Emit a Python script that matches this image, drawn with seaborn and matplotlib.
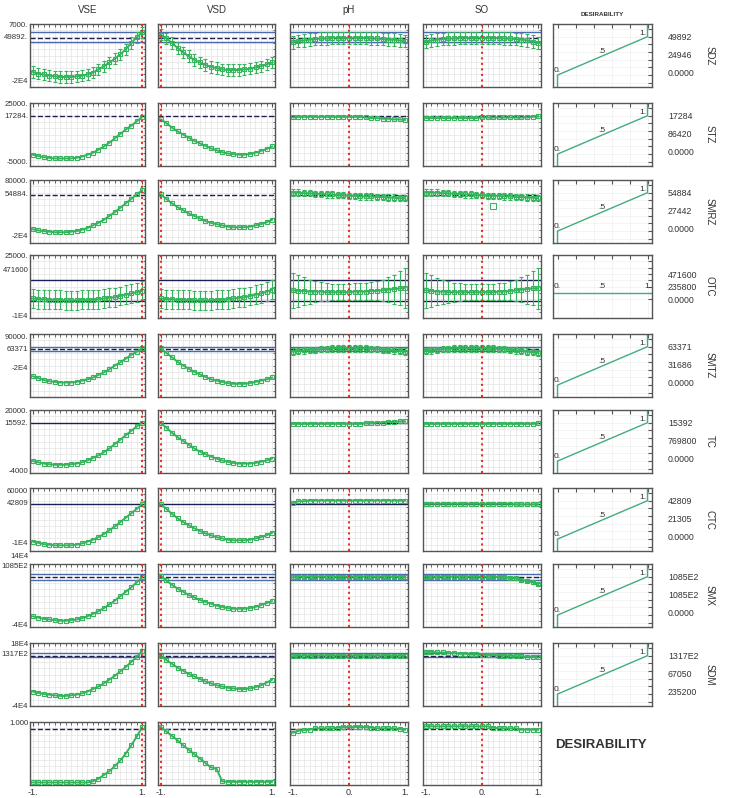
import numpy as np
import matplotlib
matplotlib.use('Agg')
import matplotlib.pyplot as plt
import seaborn as sns

#DATA
# coded factor levels along each profile
x_levels = [-1.0, -0.9, -0.8, -0.7, -0.6, -0.5, -0.4, -0.3, -0.2, -0.1, 0.0,
            0.1, 0.2, 0.3, 0.4, 0.5, 0.6, 0.7, 0.8, 0.9, 1.0]

factors = ['VSE', 'VSD', 'pH', 'SO']
current_x = [1.0, -1.0, 0.0, 0.0]
responses = ['SDZ', 'STZ', 'SMRZ', 'OTC', 'SMTZ', 'TC', 'CTC', 'SMX', 'SDM', 'DESIRABILITY']

# predicted values (scaled to each panel's range)
sdz_vse = [0.24, 0.21, 0.20, 0.18, 0.17, 0.16, 0.16, 0.16, 0.17, 0.18, 0.20, 0.23, 0.28, 0.33, 0.39, 0.45, 0.52, 0.60, 0.70, 0.79, 0.87]
sdz_vsd = [0.83, 0.77, 0.70, 0.62, 0.55, 0.49, 0.43, 0.39, 0.35, 0.32, 0.30, 0.28, 0.27, 0.27, 0.27, 0.28, 0.29, 0.31, 0.33, 0.36, 0.39]
sdz_ph = [0.71, 0.73, 0.74, 0.75, 0.76, 0.77, 0.77, 0.78, 0.78, 0.78, 0.78, 0.78, 0.78, 0.78, 0.77, 0.77, 0.76, 0.75, 0.75, 0.74, 0.73]
sdz_so = [0.72, 0.74, 0.75, 0.76, 0.77, 0.77, 0.78, 0.78, 0.78, 0.78, 0.78, 0.78, 0.78, 0.78, 0.77, 0.77, 0.76, 0.75, 0.74, 0.72, 0.70]

stz_vse = [0.18, 0.16, 0.14, 0.13, 0.12, 0.12, 0.12, 0.12, 0.13, 0.15, 0.18, 0.21, 0.26, 0.31, 0.37, 0.44, 0.51, 0.58, 0.64, 0.71, 0.78]
stz_vsd = [0.74, 0.68, 0.61, 0.55, 0.50, 0.45, 0.40, 0.36, 0.32, 0.28, 0.25, 0.22, 0.20, 0.19, 0.18, 0.18, 0.19, 0.21, 0.24, 0.27, 0.31]
stz_ph = [0.77, 0.78, 0.78, 0.78, 0.78, 0.78, 0.78, 0.78, 0.78, 0.78, 0.78, 0.78, 0.78, 0.77, 0.76, 0.76, 0.75, 0.75, 0.74, 0.74, 0.73]
stz_so = [0.76, 0.76, 0.76, 0.76, 0.76, 0.76, 0.76, 0.76, 0.76, 0.76, 0.77, 0.77, 0.77, 0.77, 0.77, 0.77, 0.77, 0.77, 0.77, 0.78, 0.79]

smrz_vse = [0.22, 0.20, 0.19, 0.18, 0.17, 0.17, 0.17, 0.18, 0.19, 0.21, 0.24, 0.28, 0.32, 0.37, 0.43, 0.49, 0.56, 0.63, 0.70, 0.77, 0.84]
smrz_vsd = [0.77, 0.70, 0.63, 0.57, 0.52, 0.47, 0.43, 0.39, 0.35, 0.32, 0.30, 0.28, 0.26, 0.25, 0.25, 0.25, 0.26, 0.28, 0.30, 0.33, 0.37]
smrz_ph = [0.80, 0.80, 0.79, 0.79, 0.78, 0.78, 0.77, 0.77, 0.76, 0.76, 0.75, 0.75, 0.74, 0.74, 0.74, 0.73, 0.73, 0.72, 0.72, 0.71, 0.71]
smrz_so = [0.80, 0.80, 0.80, 0.79, 0.79, 0.78, 0.78, 0.77, 0.77, 0.76, 0.76, 0.75, 0.75, 0.75, 0.74, 0.74, 0.73, 0.73, 0.72, 0.72, 0.71]
smrz_so_out_x = [0.2]
smrz_so_out_y = [0.59]

otc_vse = [0.31, 0.30, 0.30, 0.29, 0.29, 0.29, 0.28, 0.28, 0.28, 0.29, 0.29, 0.29, 0.30, 0.31, 0.32, 0.33, 0.35, 0.37, 0.39, 0.41, 0.43]
otc_vsd = [0.31, 0.30, 0.30, 0.29, 0.29, 0.29, 0.28, 0.28, 0.28, 0.28, 0.29, 0.29, 0.30, 0.31, 0.32, 0.33, 0.35, 0.37, 0.39, 0.42, 0.45]
otc_ph = [0.44, 0.43, 0.43, 0.42, 0.42, 0.42, 0.41, 0.41, 0.41, 0.41, 0.41, 0.42, 0.42, 0.42, 0.43, 0.43, 0.44, 0.45, 0.46, 0.47, 0.48]
otc_so = [0.44, 0.43, 0.42, 0.42, 0.41, 0.41, 0.41, 0.41, 0.41, 0.41, 0.41, 0.41, 0.41, 0.42, 0.42, 0.43, 0.44, 0.45, 0.46, 0.47, 0.47]
otc_err_edge = [0.28, 0.25, 0.22, 0.19, 0.17, 0.15, 0.14, 0.13, 0.13, 0.13, 0.13, 0.13, 0.13, 0.13, 0.14, 0.15, 0.17, 0.20, 0.23, 0.27, 0.32]

smtz_vse = [0.33, 0.30, 0.27, 0.25, 0.24, 0.23, 0.23, 0.23, 0.24, 0.26, 0.28, 0.31, 0.35, 0.39, 0.44, 0.50, 0.55, 0.61, 0.67, 0.72, 0.77]
smtz_vsd = [0.77, 0.70, 0.63, 0.56, 0.50, 0.45, 0.40, 0.36, 0.32, 0.28, 0.26, 0.24, 0.22, 0.21, 0.21, 0.21, 0.22, 0.24, 0.26, 0.28, 0.31]
smtz_ph = [0.72, 0.73, 0.74, 0.75, 0.75, 0.76, 0.76, 0.77, 0.77, 0.77, 0.77, 0.77, 0.77, 0.77, 0.76, 0.76, 0.75, 0.75, 0.74, 0.73, 0.72]
smtz_so = [0.73, 0.74, 0.75, 0.76, 0.76, 0.77, 0.77, 0.77, 0.77, 0.77, 0.77, 0.77, 0.77, 0.76, 0.76, 0.75, 0.74, 0.73, 0.72, 0.71, 0.70]

tc_vse = [0.19, 0.17, 0.15, 0.14, 0.13, 0.13, 0.13, 0.14, 0.15, 0.17, 0.20, 0.24, 0.28, 0.33, 0.39, 0.46, 0.53, 0.60, 0.67, 0.74, 0.80]
tc_vsd = [0.79, 0.72, 0.64, 0.57, 0.51, 0.45, 0.39, 0.34, 0.30, 0.26, 0.23, 0.20, 0.18, 0.16, 0.15, 0.15, 0.15, 0.16, 0.18, 0.20, 0.23]
tc_ph = [0.78, 0.78, 0.78, 0.78, 0.78, 0.78, 0.78, 0.78, 0.78, 0.78, 0.78, 0.78, 0.78, 0.79, 0.79, 0.80, 0.80, 0.81, 0.81, 0.82, 0.82]
tc_so = [0.78, 0.78, 0.78, 0.78, 0.78, 0.78, 0.78, 0.78, 0.78, 0.78, 0.78, 0.78, 0.78, 0.78, 0.78, 0.78, 0.78, 0.78, 0.78, 0.78, 0.79]

ctc_vse = [0.15, 0.13, 0.11, 0.10, 0.09, 0.09, 0.09, 0.09, 0.10, 0.12, 0.15, 0.18, 0.22, 0.27, 0.33, 0.39, 0.46, 0.53, 0.60, 0.67, 0.74]
ctc_vsd = [0.74, 0.67, 0.59, 0.52, 0.46, 0.41, 0.36, 0.32, 0.28, 0.25, 0.22, 0.20, 0.18, 0.17, 0.17, 0.17, 0.18, 0.20, 0.22, 0.25, 0.29]
ctc_ph = [0.76, 0.79, 0.79, 0.80, 0.80, 0.80, 0.80, 0.80, 0.80, 0.80, 0.80, 0.80, 0.80, 0.80, 0.80, 0.80, 0.80, 0.80, 0.80, 0.80, 0.80]
ctc_so = [0.75, 0.75, 0.75, 0.75, 0.75, 0.75, 0.75, 0.75, 0.75, 0.75, 0.75, 0.75, 0.75, 0.75, 0.75, 0.75, 0.74, 0.74, 0.74, 0.74, 0.74]

smx_vse = [0.17, 0.15, 0.13, 0.12, 0.11, 0.10, 0.10, 0.11, 0.12, 0.14, 0.17, 0.21, 0.25, 0.30, 0.36, 0.42, 0.49, 0.56, 0.63, 0.71, 0.79]
smx_vsd = [0.81, 0.74, 0.67, 0.61, 0.56, 0.51, 0.47, 0.43, 0.40, 0.37, 0.34, 0.32, 0.30, 0.29, 0.29, 0.29, 0.30, 0.32, 0.35, 0.38, 0.41]
smx_ph = [0.79, 0.80, 0.80, 0.80, 0.80, 0.80, 0.80, 0.80, 0.80, 0.80, 0.80, 0.80, 0.80, 0.80, 0.80, 0.80, 0.80, 0.80, 0.80, 0.80, 0.79]
smx_so = [0.80, 0.80, 0.80, 0.80, 0.80, 0.80, 0.80, 0.80, 0.80, 0.80, 0.80, 0.80, 0.80, 0.79, 0.79, 0.78, 0.77, 0.75, 0.73, 0.71, 0.68]

sdm_vse = [0.23, 0.21, 0.19, 0.18, 0.17, 0.16, 0.16, 0.17, 0.18, 0.20, 0.23, 0.27, 0.31, 0.36, 0.42, 0.48, 0.55, 0.62, 0.70, 0.78, 0.87]
sdm_vsd = [0.79, 0.73, 0.67, 0.61, 0.56, 0.51, 0.47, 0.43, 0.39, 0.36, 0.33, 0.31, 0.29, 0.28, 0.27, 0.27, 0.28, 0.30, 0.33, 0.37, 0.42]
sdm_ph = [0.79, 0.80, 0.80, 0.80, 0.80, 0.80, 0.80, 0.80, 0.80, 0.80, 0.80, 0.80, 0.80, 0.80, 0.80, 0.80, 0.80, 0.80, 0.80, 0.80, 0.80]
sdm_so = [0.86, 0.86, 0.85, 0.85, 0.84, 0.84, 0.83, 0.83, 0.82, 0.82, 0.81, 0.81, 0.81, 0.80, 0.80, 0.80, 0.79, 0.79, 0.78, 0.78, 0.77]

des_vse = [0.04, 0.04, 0.04, 0.04, 0.04, 0.04, 0.04, 0.04, 0.04, 0.04, 0.04, 0.06, 0.10, 0.16, 0.22, 0.30, 0.39, 0.50, 0.63, 0.77, 0.92]
des_vsd = [0.92, 0.85, 0.78, 0.71, 0.63, 0.56, 0.49, 0.42, 0.35, 0.28, 0.26, 0.06, 0.05, 0.05, 0.05, 0.05, 0.05, 0.05, 0.05, 0.05, 0.05]
des_ph = [0.83, 0.86, 0.87, 0.88, 0.90, 0.90, 0.90, 0.90, 0.91, 0.92, 0.92, 0.92, 0.92, 0.92, 0.91, 0.90, 0.90, 0.90, 0.90, 0.89, 0.88]
des_so = [0.93, 0.93, 0.93, 0.93, 0.93, 0.93, 0.93, 0.93, 0.93, 0.93, 0.93, 0.93, 0.91, 0.90, 0.90, 0.90, 0.90, 0.88, 0.88, 0.88, 0.88]

profiles = {
    'SDZ': [sdz_vse, sdz_vsd, sdz_ph, sdz_so],
    'STZ': [stz_vse, stz_vsd, stz_ph, stz_so],
    'SMRZ': [smrz_vse, smrz_vsd, smrz_ph, smrz_so],
    'OTC': [otc_vse, otc_vsd, otc_ph, otc_so],
    'SMTZ': [smtz_vse, smtz_vsd, smtz_ph, smtz_so],
    'TC': [tc_vse, tc_vsd, tc_ph, tc_so],
    'CTC': [ctc_vse, ctc_vsd, ctc_ph, ctc_so],
    'SMX': [smx_vse, smx_vsd, smx_ph, smx_so],
    'SDM': [sdm_vse, sdm_vsd, sdm_ph, sdm_so],
    'DESIRABILITY': [des_vse, des_vsd, des_ph, des_so],
}

# half widths of the confidence bars (0 = none drawn)
errors = {
    'SDZ': [0.09, 0.09, 0.10, 0.10],
    'SMRZ': [0, 0, 0.05, 0.05],
    'OTC': [0.15, 0.15, otc_err_edge, otc_err_edge],
    'SMTZ': [0, 0, 0.05, 0.05],
    'SMX': [0, 0, 0.03, 0.02],
}

# current predicted value, its style, and confidence limits
pred_level = [0.78, 0.79, 0.76, None, 0.76, 0.79, 0.75, 0.80, 0.79, 0.89]
pred_style = ['--', '--', '--', '-', '--', '-', '-', '--', '--', '--']
pred_band = [(0.71, 0.87), None, None, (0.27, 0.60), (0.73, 0.80), None, None, (0.75, 0.84), (0.77, 0.84), None]

# y labels on the left (text, position in panel)
left_labels = [
    ['7000.', '49892.', '-2E4'], ['25000.', '17284.', '-5000.'], ['80000.', '54884.', '-2E4'],
    ['25000.', '471600', '-1E4'], ['90000.', '63371', '-2E4'], ['20000.', '15592.', '-4000'],
    ['60000', '42809', '-1E4'], ['14E4', '1085E2', '-4E4'], ['18E4', '1317E2', '-4E4'], ['1.000'],
]
left_pos = [
    [0.98, 0.78, 0.08], [0.98, 0.79, 0.05], [0.98, 0.77, 0.1],
    [0.97, 0.75, 0.03], [0.94, 0.76, 0.45], [0.98, 0.79, 0.03],
    [0.95, 0.75, 0.12], [1.12, 0.96, 0.03], [0.97, 0.81, 0.0], [0.97],
]

# desirability function: response (scaled) vs desirability
des_resp = [0.0, 0.0, 1.0, 1.0]
des_val = [-0.5, 0.0, 1.0, 1.5]
otc_des_resp = [-0.1, 1.1]
otc_des_val = [0.0, 0.0]
right_labels = [
    ['49892', '24946', '0.0000'], ['17284', '86420', '0.0000'], ['54884', '27442', '0.0000'],
    ['471600', '235800', '0.0000'], ['63371', '31686', '0.0000'], ['15392', '769800', '0.0000'],
    ['42809', '21305', '0.0000'], ['1085E2', '1085E2', '0.0000'], ['1317E2', '67050', '235200'],
]

#STYLE
sns.set_style('white')
plt.rcParams['font.family'] = ['Liberation Sans', 'DejaVu Sans']
GREEN = '#37b35e'
DES_GREEN = '#3fae7c'
NAVY = '#1c1f4f'
BAND = '#4a6bb0'
RED = '#e2332b'
TXT = '#333333'

W, H = 730, 798
col_left = [30, 158, 290, 423]
col_width = [115, 117, 118, 118]
row_top = [24, 103, 180, 255, 334, 410, 488, 564, 643, 722]
row_h = 63
des_left, des_w = 553, 99


def px_rect(l, t, w, h):
    return [l / W, 1 - (t + h) / H, w / W, h / H]


def frame(ax):
    for s in ax.spines.values():
        s.set_color('#555555')
        s.set_linewidth(1.0)
    ax.tick_params(which='both', direction='in', top=True, right=True,
                   color='#555555', labelsize=6.5, labelcolor=TXT, pad=2)
    ax.tick_params(which='major', length=3)
    ax.tick_params(which='minor', length=1.8)


fig = plt.figure(figsize=(7.3, 7.98), dpi=100)

#PROFILE PANELS
for i, resp in enumerate(responses):
    curves = profiles[resp]
    errs = errors.get(resp, [0, 0, 0, 0])
    for j in range(4):
        ax = fig.add_axes(px_rect(col_left[j], row_top[i], col_width[j], row_h))
        ax.set_xlim(-1.05, 1.05)
        ax.set_ylim(0, 1)

        ax.set_xticks([-1, 0, 1] if j >= 2 else [-1, 1])
        ax.set_xticks(np.arange(-1, 1.01, 0.1), minor=True)
        ax.set_yticks([])
        ax.set_yticks(np.arange(0, 1.01, 0.1), minor=True)
        ax.grid(which='both', color='#e4e4e4', linewidth=0.5)
        frame(ax)
        if i == len(responses) - 1:
            ax.set_xticklabels(['-1.', '0.', '1.'] if j >= 2 else ['-1.', '1.'])
        else:
            ax.tick_params(labelbottom=False)
        ax.tick_params(labelleft=False)

        # confidence / reference lines
        if pred_band[i] is not None:
            for b in pred_band[i]:
                ax.axhline(b, color=BAND if i != 3 else NAVY, lw=1.0, zorder=2)
        if pred_level[i] is not None:
            ax.axhline(pred_level[i], color=NAVY, ls=pred_style[i], lw=1.0, zorder=2)

        e = errs[j]
        if np.any(np.asarray(e) > 0):
            ax.errorbar(x_levels, curves[j], yerr=e, fmt='none', ecolor=GREEN,
                        elinewidth=0.8, capsize=1.5, capthick=0.8, zorder=3)
        sns.lineplot(x=x_levels, y=curves[j], ax=ax, color=GREEN, lw=1.4,
                     marker='s', markersize=3.4, markerfacecolor='none',
                     markeredgecolor=GREEN, markeredgewidth=0.8,
                     estimator=None, zorder=4)
        if resp == 'SMRZ' and j == 3:
            sns.lineplot(x=smrz_so_out_x, y=smrz_so_out_y, ax=ax, marker='s',
                         markersize=4, markerfacecolor='none',
                         markeredgecolor=GREEN, color=GREEN, estimator=None)

        ax.axvline(current_x[j], color=RED, ls=':', lw=1.5, zorder=5)
        ax.set_xlabel('')
        ax.set_ylabel('')

        if j == 0:
            for lab, pos in zip(left_labels[i], left_pos[i]):
                ax.text(-0.015, pos, lab, transform=ax.transAxes, ha='right',
                        va='center', fontsize=5.6, color=TXT)
        if i == 0:
            ax.text(0.5, 1.22, factors[j], transform=ax.transAxes, ha='center',
                    va='center', fontsize=7, color=TXT)

    #DESIRABILITY PANELS
    if i < 9:
        dax = fig.add_axes(px_rect(des_left, row_top[i], des_w, row_h))
        dax.set_xlim(-0.05, 1.05)
        if resp == 'OTC':
            dax.set_ylim(-0.8, 1.06)
            sns.lineplot(x=otc_des_resp, y=otc_des_val, ax=dax, color=DES_GREEN,
                         lw=1.0, estimator=None, sort=False)
            for tx, ty, t in [(-0.04, 0.08, '0.'), (0.45, 0.08, '.5'), (1.04, 0.08, '1.')]:
                dax.text(tx, ty, t, fontsize=6, color=TXT,
                         ha='left' if t != '1.' else 'right', va='bottom')
            rpos = [0.67, 0.49, 0.27]
        else:
            dax.set_ylim(-0.31, 1.33)
            sns.lineplot(x=des_resp, y=des_val, ax=dax, color=DES_GREEN,
                         lw=1.0, estimator=None, sort=False)
            dax.text(-0.04, 0.03, '0.', fontsize=6, color=TXT, ha='left', va='bottom')
            dax.text(0.45, 0.52, '.5', fontsize=6, color=TXT, ha='left', va='bottom')
            dax.text(0.985, 1.0, '1.', fontsize=6, color=TXT, ha='right', va='bottom')
            rpos = [0.78, 0.5, 0.22]
        dax.set_xticks(np.arange(0, 1.01, 0.2))
        dax.set_yticks(np.arange(-0.2, 1.31, 0.2))
        dax.grid(color='#f0f0f0', linewidth=0.5)
        frame(dax)
        dax.tick_params(labelbottom=False, labelleft=False)
        dax.set_xlabel('')
        dax.set_ylabel('')
        for lab, pos in zip(right_labels[i], rpos):
            dax.text(1.16, pos, lab, transform=dax.transAxes, ha='left',
                     va='center', fontsize=6.3, color=TXT)
        dax.text(1.58, 0.5, resp, transform=dax.transAxes, ha='center',
                 va='center', rotation=-90, fontsize=7, color=TXT)

fig.text(602 / W, 1 - 15 / H, 'DESIRABILITY', ha='center', va='center',
         fontsize=4.5, fontweight='bold', color=TXT)
fig.text(555 / W, 1 - 745 / H, 'DESIRABILITY', ha='left', va='center',
         fontsize=9.5, fontweight='bold', color=TXT)

fig.savefig('out.png', dpi=100)
